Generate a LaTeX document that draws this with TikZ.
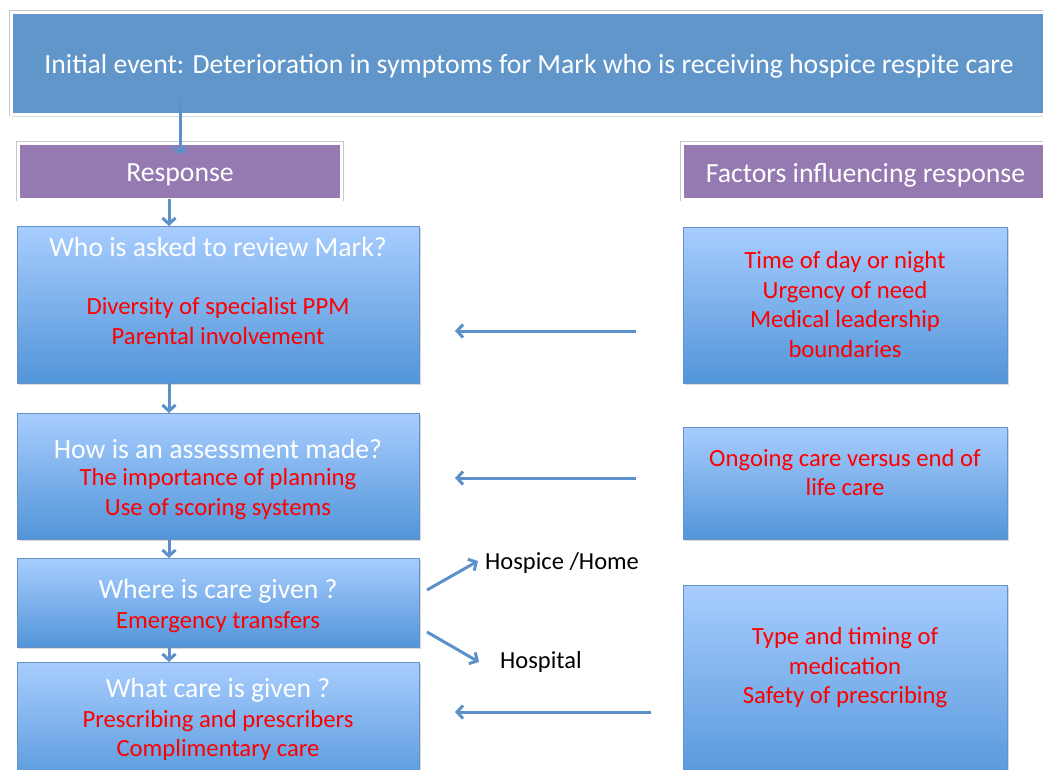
\documentclass[tikz,border=0pt]{standalone}
\usepackage{fontspec}
\setmainfont{Carlito}
\usetikzlibrary{arrows.meta,shadows}
\definecolor{bannerblue}{RGB}{96,150,201}
\definecolor{headviolet}{RGB}{149,122,177}
\definecolor{boxtop}{RGB}{168,205,254}
\definecolor{boxbot}{RGB}{82,149,217}
\definecolor{boxline}{RGB}{100,145,200}
\definecolor{arrowblue}{RGB}{91,145,200}
\definecolor{hired}{RGB}{255,0,0}
\definecolor{framegray}{RGB}{200,200,200}
\begin{document}
\begin{tikzpicture}[x=1pt,y=-1pt,
  base/.style={rectangle,inner sep=0pt,outer sep=0pt},
  framed/.style={preaction={draw=framegray,line width=4.6pt},draw=white,line width=3pt},
  bannerbox/.style={base,fill=bannerblue,framed,
    drop shadow={shadow xshift=1pt,shadow yshift=-3pt,opacity=0.3}},
  headbox/.style={base,fill=headviolet,framed,
    drop shadow={shadow xshift=1pt,shadow yshift=-2pt,opacity=0.25}},
  gradbox/.style={base,top color=boxtop,bottom color=boxbot,draw=boxline,line width=1pt,
    drop shadow={shadow xshift=1.5pt,shadow yshift=-2pt,opacity=0.3}},
  whitetext/.style={inner sep=0pt,align=center,text=white,font=\fontsize{27.7}{31}\selectfont},
  redtext/.style={inner sep=0pt,align=center,text=hired,font=\fontsize{24.7}{29.5}\selectfont},
  sidetext/.style={inner sep=0pt,font=\fontsize{24.5}{29}\selectfont,text=black},
  arr/.style={draw=arrowblue,line width=3pt,-{Straight Barb[length=6pt,width=13pt]}}
]
\useasboundingbox (0,0) rectangle (1043,769);
\clip (0,0) rectangle (1043,769);

% top banner
\node[bannerbox,minimum width=1050,minimum height=102] (banner) at (536,63) {};
\node[whitetext] (bannertxt) at (529,66) {Initial event: Deterioration in symptoms for Mark who is receiving hospice respite care};

% column headers
\node[headbox,minimum width=323.5,minimum height=56] (resp) at (179.8,171) {};
\node[whitetext] (resptxt) at (180,175) {Response};
\node[headbox,minimum width=378,minimum height=56] (fact) at (871.5,171) {};
\node[whitetext] (facttxt) at (865.5,175) {Factors influencing response};

% response column
\node[gradbox,minimum width=402,minimum height=157] (b1) at (218,304.5) {};
\node[whitetext] (b1h) at (218,247) {Who is asked to review Mark?};
\node[redtext] (b1r) at (218,321) {Diversity of specialist PPM\\Parental involvement};

\node[gradbox,minimum width=402,minimum height=126] (b2) at (218,476) {};
\node[whitetext] (b2h) at (218,449) {How is an assessment made?};
\node[redtext] (b2r) at (218,494) {The importance of planning\\Use of scoring systems};

\node[gradbox,minimum width=402,minimum height=89] (b3) at (218,602.5) {};
\node[whitetext] (b3h) at (218,591) {Where is care given ?};
\node[redtext] (b3r) at (218,622) {Emergency transfers};

\node[gradbox,minimum width=402,minimum height=130] (b4) at (218,727) {};
\node[whitetext] (b4h) at (218,690) {What care is given ?};
\node[redtext] (b4r) at (218,735.5) {Prescribing and prescribers\\Complimentary care};

% factors column
\node[gradbox,minimum width=324,minimum height=156] (r1) at (845,305) {};
\node[redtext] (r1t) at (845,304.5) {Time of day or night\\Urgency of need\\Medical leadership\\boundaries};

\node[gradbox,minimum width=324,minimum height=112] (r2) at (845,483) {};
\node[redtext] (r2t) at (845,472.5) {Ongoing care versus end of\\life care};

\node[gradbox,minimum width=324,minimum height=205] (r3) at (845,687.5) {};
\node[redtext] (r3t) at (845,668) {Type and timing of\\medication\\Safety of prescribing};

% destinations
\node[sidetext,anchor=west] (home) at (485,563) {Hospice /Home};
\node[sidetext,anchor=west] (hosp) at (500,662) {Hospital};

% flow down the response column
\coordinate (spine) at (169,0);
\coordinate (a0s) at (180,97);
\coordinate (a0e) at (180,155);
\draw[arr] (a0s) -- (a0e);
\draw[arr] (resp.south -| spine) -- (b1.north -| spine);
\draw[arr] (b1.south -| spine) -- (b2.north -| spine);
\draw[arr] (b2.south -| spine) -- (b3.north -| spine);
\draw[arr] (b3.south -| spine) -- (b4.north -| spine);

% influence arrows
\coordinate (i1s) at (636,331);
\coordinate (i1e) at (455,331);
\coordinate (i2s) at (636,478);
\coordinate (i2e) at (455,478);
\coordinate (i3s) at (651,712);
\coordinate (i3e) at (455,712);
\draw[arr] (i1s) -- (i1e);
\draw[arr] (i2s) -- (i2e);
\draw[arr] (i3s) -- (i3e);

% where care goes
\coordinate (d1s) at (427,590);
\coordinate (d1e) at (478,561);
\coordinate (d2s) at (427,632);
\coordinate (d2e) at (479,662);
\draw[arr] (d1s) -- (d1e);
\draw[arr] (d2s) -- (d2e);
\end{tikzpicture}
\end{document}
